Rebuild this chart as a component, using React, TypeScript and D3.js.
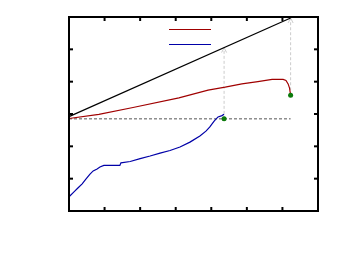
import React from "react";
import * as d3 from "d3";

// x in [0,7], y in [0,6]
const xTicks = [1, 2, 3, 4, 5, 6];
const yTicks = [1, 2, 3, 4, 5];

const baseline = 2.85;
const xEndBlue = 4.36;
const xEndRed = 6.23;

const blackLine: [number, number][] = [
  [0, 2.92],
  [6.23, 5.97],
];

const redX = [0, 0.84, 1.8, 3.09, 3.91, 4.39, 4.86, 5.31, 5.71, 6.02, 6.1, 6.16, 6.2, 6.23];
const redY = [2.86, 2.99, 3.2, 3.5, 3.74, 3.83, 3.93, 4.0, 4.07, 4.07, 4.04, 3.93, 3.8, 3.58];

const blueX = [0.01, 0.14, 0.25, 0.37, 0.48, 0.59, 0.68, 0.79, 0.87, 0.98, 1.43, 1.46, 1.72, 2.0, 2.28, 2.56, 2.84, 3.12, 3.4, 3.68, 3.85, 3.96, 4.08, 4.19, 4.3, 4.36];
const blueY = [0.45, 0.59, 0.71, 0.84, 0.99, 1.14, 1.24, 1.3, 1.36, 1.41, 1.41, 1.49, 1.53, 1.62, 1.7, 1.79, 1.87, 1.98, 2.13, 2.32, 2.47, 2.6, 2.78, 2.91, 2.95, 2.99];

const W = 346;
const H = 261;
const margin = { top: 17, right: 28, bottom: 50, left: 69 };

export default function App() {
  const x = d3.scaleLinear().domain([0, 7]).range([margin.left, W - margin.right]);
  const y = d3.scaleLinear().domain([0, 6]).range([H - margin.bottom, margin.top]);

  const line = d3
    .line<[number, number]>()
    .x((d) => x(d[0]))
    .y((d) => y(d[1]));
  const smooth = line.curve(d3.curveMonotoneX);

  const red = redX.map((v, i) => [v, redY[i]] as [number, number]);
  const blue = blueX.map((v, i) => [v, blueY[i]] as [number, number]);

  const blackAt = (xv: number) =>
    blackLine[0][1] + ((blackLine[1][1] - blackLine[0][1]) * (xv - blackLine[0][0])) / (blackLine[1][0] - blackLine[0][0]);

  const guides = [
    { xv: xEndBlue, y0: baseline, y1: blackAt(xEndBlue) },
    { xv: xEndRed, y0: redY[redY.length - 1], y1: blackAt(xEndRed) },
  ];

  const x0 = x(0), x1 = x(7), yb = y(0), yt = y(6);

  return (
    <svg width={W} height={H} style={{ position: "fixed", left: 0, top: 0, background: "#fff" }}>
      {/* guide lines */}
      {guides.map((g, i) => (
        <g key={i} stroke="#cccccc" fill="none" strokeWidth={1}>
          <line x1={x(g.xv)} x2={x(g.xv)} y1={y(g.y0)} y2={y(g.y1)} strokeDasharray="3,2" />
          <path d={`M${x(g.xv) - 2.5},${y(g.y1) + 5}L${x(g.xv)},${y(g.y1)}L${x(g.xv) + 2.5},${y(g.y1) + 5}`} />
        </g>
      ))}

      {/* baseline */}
      <line
        x1={x(0)}
        x2={x(xEndRed)}
        y1={y(baseline)}
        y2={y(baseline)}
        stroke="#555"
        strokeWidth={1}
        strokeDasharray="3,2"
      />

      <path d={line.curve(d3.curveLinear)(blackLine) || ""} fill="none" stroke="#000" strokeWidth={1.2} />
      <path d={smooth(red) || ""} fill="none" stroke="#a00000" strokeWidth={1.2} />
      <path d={line.curve(d3.curveLinear)(blue) || ""} fill="none" stroke="#0000a8" strokeWidth={1.2} />

      {/* end points */}
      {[
        [xEndBlue, baseline],
        [xEndRed, redY[redY.length - 1]],
      ].map((d, i) => (
        <circle key={i} cx={x(d[0])} cy={y(d[1])} r={2.5} fill="#0b7a0b" />
      ))}

      {/* legend */}
      <line x1={169} x2={211} y1={29.5} y2={29.5} stroke="#a00000" strokeWidth={1.2} />
      <line x1={169} x2={211} y1={44.5} y2={44.5} stroke="#0000a8" strokeWidth={1.2} />

      {/* ticks, inward on all sides */}
      <g stroke="#000" strokeWidth={2}>
        {xTicks.map((t) => (
          <g key={"x" + t}>
            <line x1={x(t)} x2={x(t)} y1={yb} y2={yb - 4} />
            <line x1={x(t)} x2={x(t)} y1={yt} y2={yt + 4} />
          </g>
        ))}
        {yTicks.map((t) => (
          <g key={"y" + t}>
            <line x1={x0} x2={x0 + 4} y1={y(t)} y2={y(t)} />
            <line x1={x1} x2={x1 - 4} y1={y(t)} y2={y(t)} />
          </g>
        ))}
      </g>

      <rect x={x0} y={yt} width={x1 - x0} height={yb - yt} fill="none" stroke="#000" strokeWidth={2} />
    </svg>
  );
}
